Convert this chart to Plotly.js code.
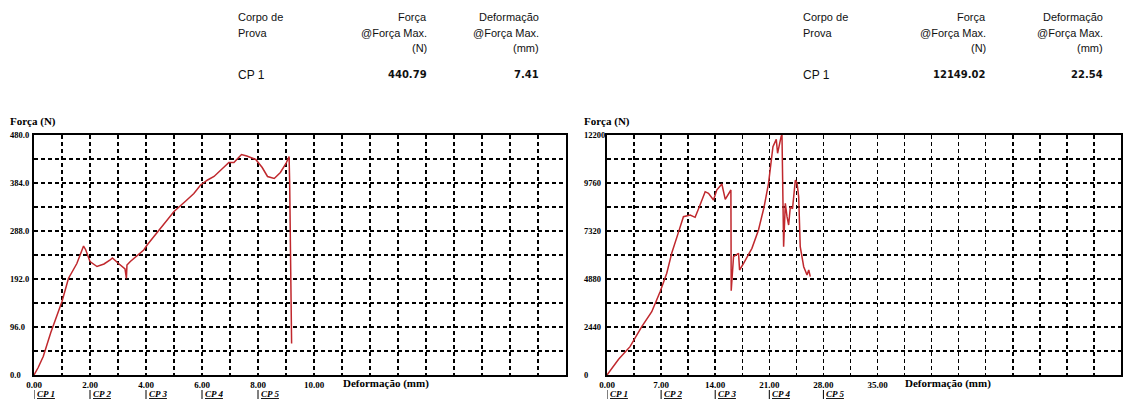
<!DOCTYPE html>
<html>
<head>
<meta charset="utf-8">
<script src="https://cdn.plot.ly/plotly-3.0.1.min.js"></script>
<style>html,body{margin:0;padding:0;background:#fff;}#chart{width:1123px;height:403px;}</style>
</head>
<body>
<div id="chart"></div>
<script>
// ---------- DATA ----------
// Left specimen: deformation (mm) vs force (N)
const leftDef = [0, 0.15, 0.33, 0.6, 1.0, 1.23, 1.53, 1.7, 1.77, 1.85, 2.0, 2.25, 2.5, 2.72, 2.8, 3.02, 3.14, 3.25, 3.3, 3.32, 3.44, 3.7, 3.92, 4.04, 4.5, 5.0, 5.4, 5.71, 5.95, 6.2, 6.43, 6.7, 6.96, 7.14, 7.41, 7.6, 7.92, 8.15, 8.34, 8.58, 8.8, 9.0, 9.11, 9.13, 9.16, 9.2];
const leftForce = [0, 15, 37, 85, 147, 193, 223, 250, 258, 250, 227, 217, 222, 230, 234, 223, 217, 212, 193, 220, 227, 240, 250, 260, 293, 327, 347, 363, 380, 390, 397, 412, 425, 425, 440.79, 438, 431, 415, 397, 393, 405, 423, 437, 388, 204, 63];

// Right specimen
const rightDef = [0, 0.17, 1.5, 2.98, 4.5, 5.79, 6.87, 7.73, 8.38, 9.2, 9.89, 10.76, 11.4, 12.0, 12.7, 13.13, 13.78, 14.2, 14.86, 15.3, 16.03, 16.07, 16.37, 17.02, 17.15, 17.67, 18.75, 19.6, 20.3, 20.9, 21.47, 21.9, 22.07, 22.54, 22.64, 22.85, 23.07, 23.29, 23.5, 23.72, 24.0, 24.37, 24.59, 24.8, 25.0, 25.45, 25.66, 25.88, 26.1, 26.3];
const rightForce = [0, 85, 800, 1440, 2455, 3218, 4235, 5170, 6200, 7200, 8047, 8133, 8014, 8600, 9318, 9234, 8895, 9404, 9709, 8930, 9404, 4286, 6015, 6185, 5337, 5676, 6438, 7371, 8500, 9744, 11605, 11980, 11270, 12149.02, 12200, 6523, 8726, 8047, 7625, 8555, 8450, 9913, 9744, 9064, 6523, 5506, 5337, 5083, 5337, 4998];

// Axis ticks / labels
const leftXGrid = [0,1,2,3,4,5,6,7,8,9,10,11,12,13,14,15,16,17,18,19];
const leftXLabels = ['0.00','','2.00','','4.00','','6.00','','8.00','','10.00','','','','','','','','',''];
const leftYGrid = [0,48,96,144,192,240,288,336,384,432,480];
const leftYTickVals = [0,96,192,288,384,480];
const leftYTickText = ['0.0','96.0','192.0','288.0','384.0','480.0'];

const rightXGrid = [0,3.5,7,10.5,14,17.5,21,24.5,28,31.5,35,38.5,42,45.5,49,52.5,56,59.5,63,66.5];
const rightXLabels = ['0.00','','7.00','','14.00','','21.00','','28.00','','35.00','','','','','','','','',''];
const rightYGrid = [0,1220,2440,3660,4880,6100,7320,8540,9760,10980,12200];
const rightYTickVals = [0,2440,4880,7320,9760,12200];
const rightYTickText = ['0','2440','4880','7320','9760','12200'];

const cpLabels = ['CP 1','CP 2','CP 3','CP 4','CP 5'];
const leftCpPos = [0,2,4,6,8];
const rightCpPos = [0,7,14,21,28];

// Result tables
const tableHeadCol1 = ['Corpo de','Prova'];
const tableHeadCol2 = ['Força','@Força Max.','(N)'];
const tableHeadCol3 = ['Deformação','@Força Max.','(mm)'];
const leftResult = {specimen:'CP 1', force:'440.79', def:'7.41'};
const rightResult = {specimen:'CP 1', force:'12149.02', def:'22.54'};

// ---------- LAYOUT ----------
const W = 1123, H = 403;
const px = v => v / W;
const py = v => 1 - v / H;
const lineColor = '#c0282d';
const serif = 'Liberation Serif, Times New Roman, serif';
const sans = 'Liberation Sans, Arial, sans-serif';

const traces = [
  {x: leftDef, y: leftForce, xaxis:'x', yaxis:'y', mode:'lines', line:{color:lineColor, width:1.5}, hoverinfo:'skip'},
  {x: rightDef, y: rightForce, xaxis:'x2', yaxis:'y2', mode:'lines', line:{color:lineColor, width:1.5}, hoverinfo:'skip'}
];

function xAxis(domain, range, grid, labels, anchor){
  return {domain, range, anchor, tickmode:'array', tickvals:grid, ticktext:labels,
    showgrid:true, gridcolor:'#000', gridwidth:1.5, griddash:'4px,3px',
    zeroline:false, showline:true, linecolor:'#000', linewidth:2, mirror:true,
    ticks:'', ticklen:0, tickfont:{family:serif, size:9, color:'#000', weight:'bold'}};
}
function yAxis(domain, range, grid, anchor){
  return {domain, range, anchor, tickmode:'array', tickvals:grid, showticklabels:false,
    showgrid:true, gridcolor:'#000', gridwidth:1.5, griddash:'4px,3px',
    zeroline:false, showline:true, linecolor:'#000', linewidth:2, mirror:true, ticks:''};
}

const annotations = [];
const shapes = [];

function addYLabels(vals, texts, yref, xPix){
  vals.forEach((v,i)=>annotations.push({xref:'paper', yref, x:px(xPix), y:v, xanchor:'left', yanchor:'middle',
    text:'<b>'+texts[i]+'</b>', showarrow:false, font:{family:serif, size:8.5, color:'#000'}}));
}
addYLabels(leftYTickVals, leftYTickText, 'y', 8);
addYLabels(rightYTickVals, rightYTickText, 'y2', 582);

function addCp(pos, xref){
  pos.forEach((v,i)=>{
    annotations.push({xref, yref:'paper', x:v, y:py(394), xanchor:'left', yanchor:'middle', xshift:1,
      text:'<b><i><u>'+cpLabels[i]+'</u></i></b>', showarrow:false, font:{family:serif, size:9, color:'#000'}});
    shapes.push({type:'line', xref, yref:'paper', x0:v, x1:v, y0:py(390), y1:py(399), line:{color:'#000', width:1}});
  });
}
addCp(leftCpPos, 'x');
addCp(rightCpPos, 'x2');

// axis titles
[[8,121],[582,121]].forEach(p=>annotations.push({xref:'paper', yref:'paper', x:px(p[0]), y:py(p[1]), xanchor:'left', yanchor:'middle',
  text:'<b>Força (N)</b>', showarrow:false, font:{family:serif, size:11, color:'#000'}}));
[[341,383],[903,383]].forEach(p=>annotations.push({xref:'paper', yref:'paper', x:px(p[0]), y:py(p[1]), xanchor:'left', yanchor:'middle',
  text:'<b>Deformação (mm)</b>', showarrow:false, font:{family:serif, size:11, color:'#000'}}));

// tables
function addTable(c1, c2, c3, res){
  const rowsY = [17, 33, 48];
  tableHeadCol1.forEach((t,i)=>annotations.push({xref:'paper', yref:'paper', x:px(c1), y:py(rowsY[i]), xanchor:'left', yanchor:'middle', text:t, showarrow:false, font:{family:sans, size:11, color:'#111'}}));
  tableHeadCol2.forEach((t,i)=>annotations.push({xref:'paper', yref:'paper', x:px(c2), y:py(rowsY[i]), xanchor:'right', yanchor:'middle', text:t, showarrow:false, font:{family:sans, size:11, color:'#111'}}));
  tableHeadCol3.forEach((t,i)=>annotations.push({xref:'paper', yref:'paper', x:px(c3), y:py(rowsY[i]), xanchor:'right', yanchor:'middle', text:t, showarrow:false, font:{family:sans, size:11, color:'#111'}}));
  annotations.push({xref:'paper', yref:'paper', x:px(c1), y:py(75), xanchor:'left', yanchor:'middle', text:res.specimen, showarrow:false, font:{family:sans, size:12, color:'#111'}});
  annotations.push({xref:'paper', yref:'paper', x:px(c2), y:py(75), xanchor:'right', yanchor:'middle', text:'<b>'+res.force+'</b>', showarrow:false, font:{family:'DejaVu Sans, sans-serif', size:10, color:'#111'}});
  annotations.push({xref:'paper', yref:'paper', x:px(c3), y:py(75), xanchor:'right', yanchor:'middle', text:'<b>'+res.def+'</b>', showarrow:false, font:{family:'DejaVu Sans, sans-serif', size:10, color:'#111'}});
}
addTable(236, 429, 541, leftResult);
addTable(801, 988, 1105, rightResult);

const layout = {
  width: W, height: H, margin:{l:0, r:0, t:0, b:0}, showlegend:false,
  paper_bgcolor:'#fff', plot_bgcolor:'#fff',
  xaxis: xAxis([px(34), px(566)], [0,19], leftXGrid, leftXLabels, 'y'),
  yaxis: yAxis([1-375/H, 1-135/H], [0,480], leftYGrid, 'x'),
  xaxis2: xAxis([px(607), px(1121)], [0,66.5], rightXGrid, rightXLabels, 'y2'),
  yaxis2: yAxis([1-375/H, 1-135/H], [0,12200], rightYGrid, 'x2'),
  annotations, shapes
};

Plotly.newPlot('chart', traces, layout, {displayModeBar:false, staticPlot:true});
</script>
</body>
</html>
